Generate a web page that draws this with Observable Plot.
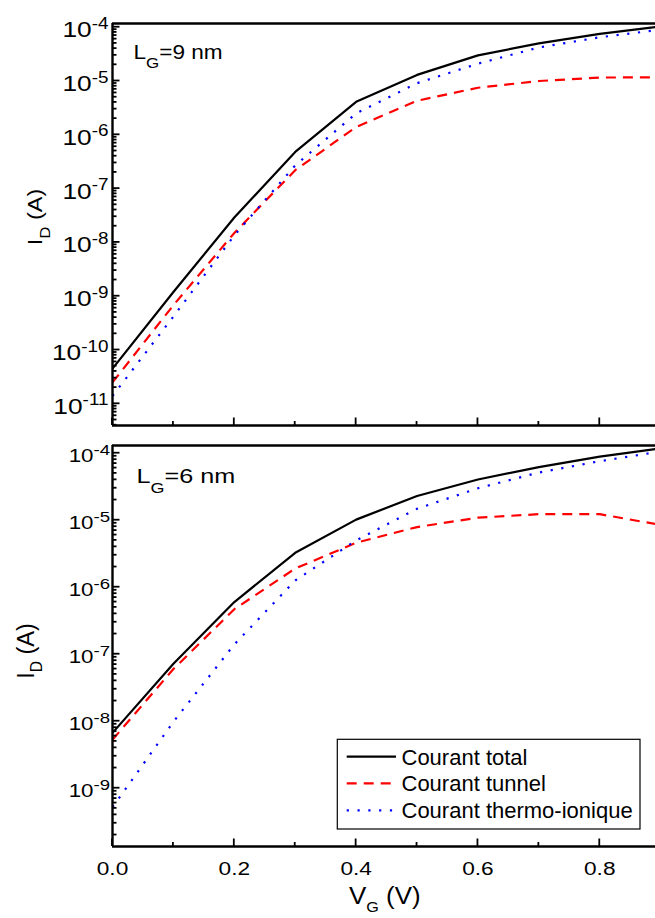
<!DOCTYPE html>
<html><head><meta charset="utf-8">
<script src="https://cdn.jsdelivr.net/npm/d3@7"></script>
<script src="https://cdn.jsdelivr.net/npm/@observablehq/plot@0.6"></script>
<style>
html,body{margin:0;padding:0;background:#fff;}
#wrap{position:relative;width:655px;height:918px;overflow:hidden;background:#fff;}
#wrap > svg{position:absolute;left:0;}
</style></head><body><div id="wrap"></div>
<script>
const FONT = "'Liberation Sans', Arial, Helvetica, sans-serif";

// ---- data ----
const vg = [0, 0.1, 0.2, 0.3, 0.4, 0.5, 0.6, 0.7, 0.8, 0.9];
// L_G = 9 nm
const total9  = [4.5e-11, 1.2e-9, 2.9e-8, 4.8e-7, 4.1e-6, 1.3e-5, 3.0e-5, 5.0e-5, 7.5e-5, 1.03e-4];
const tunnel9 = [2.5e-11, 6.8e-10, 1.5e-8, 2.2e-7, 1.4e-6, 4.3e-6, 7.5e-6, 1.0e-5, 1.16e-5, 1.17e-5];
const thermo9 = [1.4e-11, 4.2e-10, 1.35e-8, 2.7e-7, 2.5e-6, 9.1e-6, 2.1e-5, 4.2e-5, 6.5e-5, 9.0e-5];
// L_G = 6 nm
const total6  = [6.7e-9, 7.2e-8, 6.0e-7, 3.26e-6, 1.02e-5, 2.3e-5, 4.05e-5, 6.2e-5, 8.9e-5, 1.18e-4];
const tunnel6 = [5.3e-9, 6.0e-8, 4.7e-7, 1.9e-6, 4.6e-6, 7.9e-6, 1.09e-5, 1.23e-5, 1.23e-5, 8.5e-6];
const thermo6 = [5.2e-10, 9.8e-9, 1.4e-7, 1.26e-6, 5.0e-6, 1.48e-5, 3.0e-5, 5.15e-5, 7.6e-5, 1.06e-4];

const seriesNames  = ["Courant total", "Courant tunnel", "Courant thermo-ionique"];
const seriesColors = ["#000000", "#ff0000", "#0000ff"];
const seriesDash   = [null, "10,7", "2.2,8.6"];
const xTicks      = [0, 0.2, 0.4, 0.6, 0.8];
const xMinorTicks = [0.1, 0.3, 0.5, 0.7];
const xTickLabels = ["0.0", "0.2", "0.4", "0.6", "0.8"];
const XMAX = 0.8915;

const rows = (vals) => vg.map((x, i) => ({x, y: vals[i]}));

function panel(o) {
  const [y0, y1] = o.yDomain;
  const lo = Math.ceil(Math.log10(y0)), hi = Math.floor(Math.log10(y1));
  const majors = d3.range(lo, hi + 1).map(k => Math.pow(10, k));
  const minors = [];
  for (let k = lo - 1; k <= hi; k++) for (let m = 2; m <= 9; m++) {
    const v = m * Math.pow(10, k);
    if (v > y0 && v < y1) minors.push(v);
  }
  const marks = [];
  o.series.forEach((vals, i) => {
    marks.push(Plot.line(rows(vals), {x: "x", y: "y", stroke: seriesColors[i], strokeWidth: 2.2,
      strokeDasharray: seriesDash[i] || undefined, strokeLinecap: "butt"}));
  });
  marks.push(Plot.ruleY([y0, y1], {stroke: "#000", strokeWidth: 2.4}));
  marks.push(Plot.ruleX([0], {stroke: "#000", strokeWidth: 2.4}));
  marks.push(Plot.axisY(majors, {anchor: "left", tickSize: 0, tickPadding: o.padding, fontSize: o.yFont, label: null,
    tickFormat: d => "10^" + Math.round(Math.log10(d))}));
  if (o.showX) marks.push(Plot.axisX(xTicks, {anchor: "bottom", tickSize: 0, tickPadding: 15, fontSize: 18.6, label: null,
    tickFormat: d => xTickLabels[xTicks.indexOf(d)]}));
  const svg = Plot.plot({
    width: 655, height: o.height, marginLeft: 112, marginRight: 0, marginTop: o.marginTop, marginBottom: o.marginBottom,
    x: {domain: [0, XMAX], axis: o.showX ? undefined : null},
    y: {type: "log", domain: o.yDomain},
    style: {fontFamily: FONT, background: "transparent", color: "#000"},
    marks
  });
  // inward tick marks, positioned with Plot's own scales
  const sx = svg.scale("x"), sy = svg.scale("y");
  const x0 = sx.apply(0), yb = sy.apply(y0);
  const g = d3.select(svg).append("g").attr("stroke", "#000").attr("stroke-width", 1.8);
  const tick = (xa, ya, xb, yb2) => g.append("line").attr("x1", xa).attr("y1", ya).attr("x2", xb).attr("y2", yb2);
  minors.forEach(v => { const y = sy.apply(v); tick(x0, y, x0 + 4.5, y); });
  majors.forEach(v => { const y = sy.apply(v); tick(x0, y, x0 + 7.5, y); });
  xMinorTicks.forEach(v => { const x = sx.apply(v); tick(x, yb, x, yb - 4); });
  xTicks.forEach(v => { const x = sx.apply(v); tick(x, yb, x, yb - 7.5); });

  d3.select(svg).selectAll("text").each(function () {
    const s = d3.select(this);
    const t = this.textContent;
    const m = /^10\^(-?\d+)$/.exec(t);
    if (m) {
      s.text(null).attr("y", o.yShift);
      s.append("tspan").text("10");
      s.append("tspan").attr("dy", o.supShift).attr("font-size", o.supFont).text(m[1]);
      s.attr("transform", (s.attr("transform") || "") + ` scale(${o.sx},1)`);
    } else if (/^\d\.\d$/.test(t)) {
      s.attr("transform", (s.attr("transform") || "") + ` scale(1.22,1)`);
    }
  });
  svg.style.top = o.top + "px";
  return svg;
}

const wrap = document.getElementById("wrap");
wrap.appendChild(panel({
  series: [total9, tunnel9, thermo9], yDomain: [Math.pow(10, -11.403), Math.pow(10, -3.931)],
  top: 0, height: 435, marginTop: 23, marginBottom: 10,
  yFont: 22.3, supFont: 16, yShift: 10, supShift: -8.5, sx: 1.18, padding: 4, showX: false
}));
wrap.appendChild(panel({
  series: [total6, tunnel6, thermo6], yDomain: [Math.pow(10, -9.870), Math.pow(10, -3.885)],
  top: 435, height: 483, marginTop: 10, marginBottom: 72,
  yFont: 18.6, supFont: 15.5, yShift: 9, supShift: -7, sx: 1.2, padding: 2.5, showX: true
}));

// ---- annotations & legend ----
const ov = d3.select(wrap).append("svg").attr("width", 655).attr("height", 918)
  .style("top", "0px").attr("font-family", FONT).attr("fill", "#000");
function rich(x, y, parts, size, sx = 1, rotate = 0, anchor = "start") {
  const t = ov.append("text").attr("transform", `translate(${x},${y}) rotate(${rotate}) scale(${sx},1)`)
    .attr("font-size", size).attr("text-anchor", anchor);
  for (const p of parts) {
    const ts = t.append("tspan").text(p.text);
    if (p.dy) ts.attr("dy", p.dy);
    if (p.size) ts.attr("font-size", p.size);
  }
}
rich(133.5, 59.3, [{text: "L"}, {text: "G", size: 15, dy: 9}, {text: "=9 nm", dy: -9}], 20, 1.13);
rich(136.5, 483.3, [{text: "L"}, {text: "G", size: 15, dy: 10}, {text: "=6 nm", dy: -10}], 21, 1.2);
rich(42, 217, [{text: "I"}, {text: "D", size: 15, dy: 8}, {text: " (A)", dy: -8}], 21, 1.12, -90, "middle");
rich(34, 651, [{text: "I"}, {text: "D", size: 16, dy: 8}, {text: " (A)", dy: -8}], 24, 0.98, -90, "middle");
rich(349, 904, [{text: "V"}, {text: "G", size: 15, dy: 8}, {text: " (V)", dy: -8}], 24, 1.08);

const lg = ov.append("g");
lg.append("rect").attr("x", 337.3).attr("y", 739.3).attr("width", 302.7).attr("height", 89.7)
  .attr("fill", "#fff").attr("stroke", "#000").attr("stroke-width", 1.2);
const rowY = [756.7, 783.3, 810.3];
seriesNames.forEach((name, i) => {
  const l = lg.append("line").attr("x1", 346.7).attr("x2", 396).attr("y1", rowY[i]).attr("y2", rowY[i])
    .attr("stroke", seriesColors[i]).attr("stroke-width", 2.2);
  if (seriesDash[i]) l.attr("stroke-dasharray", seriesDash[i]);
  lg.append("text").attr("x", 401.5).attr("y", rowY[i] + 8).attr("font-size", 22).text(name);
});
</script></body></html>
